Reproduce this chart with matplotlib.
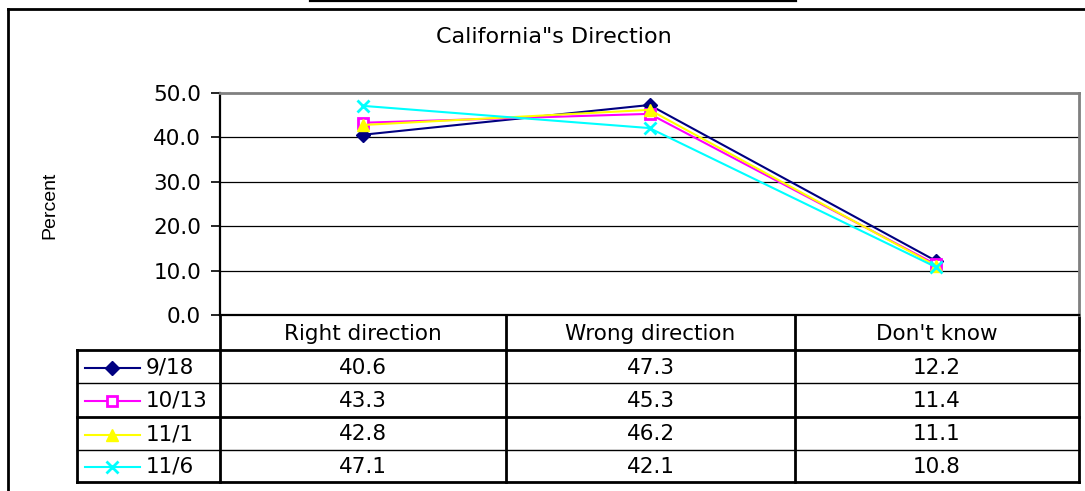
import matplotlib
matplotlib.use("Agg")
import matplotlib.pyplot as plt

# chart data
categories = ["Right direction", "Wrong direction", "Don't know"]
dates = ["9/18", "10/13", "11/1", "11/6"]
s_0918 = [40.6, 47.3, 12.2]
s_1013 = [43.3, 45.3, 11.4]
s_1101 = [42.8, 46.2, 11.1]
s_1106 = [47.1, 42.1, 10.8]
series = [s_0918, s_1013, s_1101, s_1106]
yticks = [0, 10, 20, 30, 40, 50]

styles = [
    dict(color="#000080", marker="D", ms=7, mfc="#000080", mec="#000080"),
    dict(color="#FF00FF", marker="s", ms=7, mfc="white", mec="#FF00FF", mew=2),
    dict(color="#FFFF00", marker="^", ms=9, mfc="#FFFF00", mec="#FFFF00"),
    dict(color="#00FFFF", marker="x", ms=9, mfc="#00FFFF", mec="#00FFFF", mew=2),
]

W, H = 1085, 491
fig = plt.figure(figsize=(W / 100, H / 100), dpi=100)
plt.rcParams["font.family"] = "DejaVu Sans"
fs = 15.5

# layout in pixels (from top-left)
px_left, px_right = 220, 1079
px_top, px_zero = 93, 315
tab_left = 77
col_edges = [220, 506, 795, 1079]
row_edges = [315, 350, 383, 417, 450, 482]

# overlay axes in pixel coordinates for table and frame
ov = fig.add_axes([0, 0, 1, 1])
ov.set_xlim(0, W)
ov.set_ylim(H, 0)
ov.axis("off")

# plot area
ax = fig.add_axes([px_left / W, (H - px_zero) / H,
                   (px_right - px_left) / W, (px_zero - px_top) / H])
x = list(range(len(categories)))
for vals, st in zip(series, styles):
    ax.plot(x, vals, lw=1.5, **st, clip_on=False, zorder=3)
ax.set_xlim(-0.5, len(categories) - 0.5)
ax.set_ylim(0, 50)
ax.set_yticks(yticks)
ax.set_yticklabels(["%.1f" % v for v in yticks], fontsize=fs)
ax.set_xticks([])
for v in yticks[1:-1]:
    ax.axhline(v, color="black", lw=0.9, zorder=1)
ax.tick_params(axis="y", direction="out", length=6.5, width=1.2, pad=7)
ax.spines["left"].set_linewidth(1.6)
ax.spines["bottom"].set_linewidth(1.6)
ax.spines["top"].set_color("#808080")
ax.spines["right"].set_color("#808080")
ax.spines["top"].set_linewidth(2)
ax.spines["right"].set_linewidth(2)
ax.patch.set_alpha(0)

# title and y label
ov.text(554, 37, 'California"s Direction', ha="center", va="center", fontsize=fs + 0.5)
ov.text(50, 205, "Percent", ha="center", va="center", rotation=90,
        fontsize=14, family="Liberation Sans")

# frame lines
ov.plot([8, 8], [9, H], color="black", lw=2)
ov.plot([8, W], [9, 9], color="black", lw=2)
ov.plot([310, 796], [1, 1], color="black", lw=1.6)

# table grid
thick = {350: 2.0, 417: 2.0, 482: 2.0}
for y in row_edges[1:]:
    ov.plot([tab_left, col_edges[-1]], [y, y], color="black", lw=thick.get(y, 1.0))
ov.plot([tab_left, tab_left], [350, 482], color="black", lw=2)
for xe in col_edges:
    ov.plot([xe, xe], [315, 482], color="black", lw=2)

# header
for i, c in enumerate(categories):
    cx = (col_edges[i] + col_edges[i + 1]) / 2
    ov.text(cx, (row_edges[0] + row_edges[1]) / 2 + 1, c, ha="center", va="center",
            fontsize=fs)

# rows
for r, (d, vals, st) in enumerate(zip(dates, series, styles)):
    cy = (row_edges[r + 1] + row_edges[r + 2]) / 2 + 1
    ov.plot([85, 140], [cy, cy], color=st["color"], lw=1.5)
    ov.plot([112], [cy], linestyle="none", **st)
    ov.text(146, cy, d, ha="left", va="center", fontsize=fs)
    for i, v in enumerate(vals):
        cx = (col_edges[i] + col_edges[i + 1]) / 2
        ov.text(cx, cy, "%.1f" % v, ha="center", va="center", fontsize=fs)

fig.savefig("out.png", dpi=100)
